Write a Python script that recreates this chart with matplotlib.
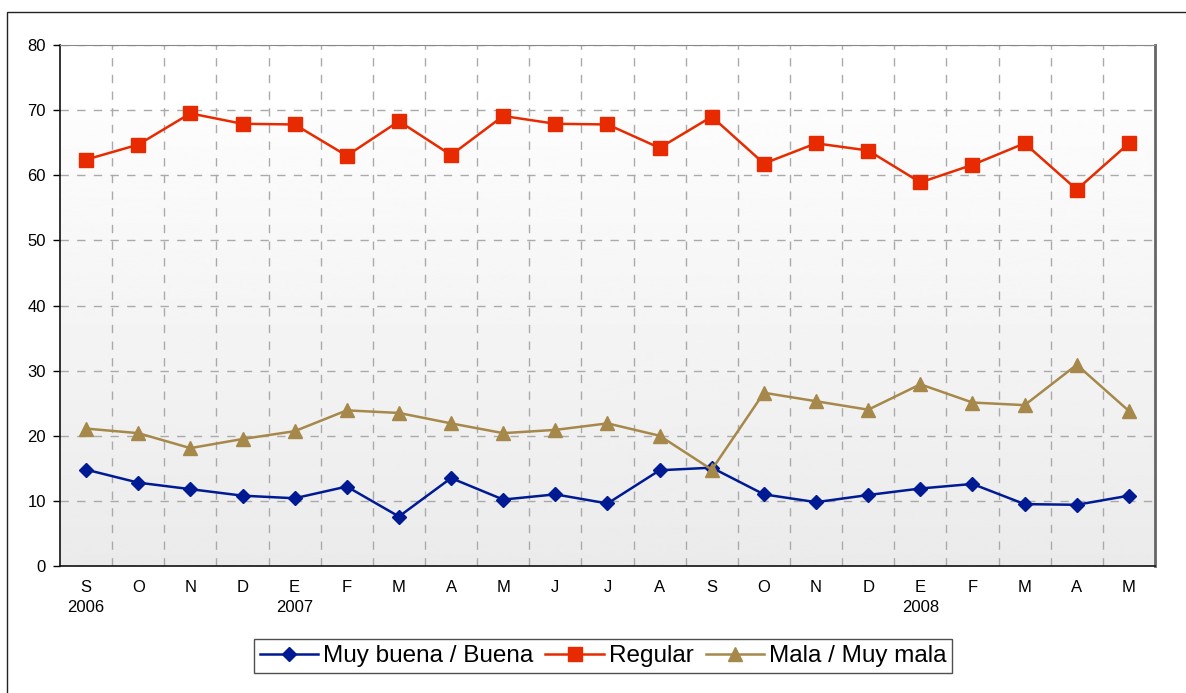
import numpy as np
import matplotlib
matplotlib.use("Agg")
import matplotlib.pyplot as plt
from matplotlib.patches import Rectangle

plt.rcParams['font.family'] = ['Liberation Sans', 'DejaVu Sans']

# datos
meses = ["S", "O", "N", "D", "E", "F", "M", "A", "M", "J", "J", "A", "S",
         "O", "N", "D", "E", "F", "M", "A", "M"]
anios = {0: "2006", 4: "2007", 16: "2008"}

buena = [14.8, 12.8, 11.8, 10.8, 10.4, 12.2, 7.6, 13.5, 10.2, 11.0, 9.6, 14.7,
         15.1, 11.0, 9.8, 10.9, 11.9, 12.6, 9.5, 9.4, 10.8]
regular = [62.4, 64.7, 69.5, 67.9, 67.8, 63.0, 68.3, 63.1, 69.1, 67.9, 67.8,
           64.2, 69.0, 61.8, 64.9, 63.8, 58.9, 61.6, 64.9, 57.8, 64.9]
mala = [21.1, 20.4, 18.1, 19.5, 20.7, 23.9, 23.5, 21.9, 20.4, 20.9, 21.9, 20.0,
        14.8, 26.6, 25.3, 24.0, 27.9, 25.1, 24.7, 30.9, 23.8]

fig = plt.figure(figsize=(11.86, 6.93), dpi=100)
ax = fig.add_axes([60 / 1186, 1 - 566 / 693, 1095 / 1186, 521 / 693])

# outer frame
fig.patches.append(Rectangle((7 / 1186, -0.01), 1.1, 1 - 12 / 693 + 0.01,
                             transform=fig.transFigure, fill=False,
                             edgecolor="#222222", linewidth=1.0))

x = np.arange(len(meses))

# background gradient (white above 70, light grey fade below)
pos = np.linspace(0, 1, 256)
grad = np.where(pos > 0.875, 1.0, 0.92 + 0.07 * pos / 0.875).reshape(-1, 1)
ax.imshow(grad, cmap="gray", vmin=0, vmax=1, aspect="auto", origin="lower",
          extent=(-0.5, len(meses) - 0.5, 0, 80), zorder=0)

ax.plot(x, buena, color="#001a94", marker="D", markersize=7.5, linewidth=1.8,
        label="Muy buena / Buena", zorder=3)
ax.plot(x, regular, color="#e82a00", marker="s", markersize=9.5, linewidth=1.8,
        label="Regular", zorder=3)
ax.plot(x, mala, color="#a6884a", marker="^", markersize=10, linewidth=1.8,
        label="Mala / Muy mala", zorder=3)

ax.set_xlim(-0.5, len(meses) - 0.5)
ax.set_ylim(0, 80)
ax.set_yticks(np.arange(0, 81, 10))
ax.set_xticks(x)
ax.set_xticklabels([m + ("\n" + anios[i] if i in anios else "\n")
                    for i, m in enumerate(meses)], fontsize=12, linespacing=1.45)
ax.set_xticks(np.arange(0.5, len(meses) - 1, 1), minor=True)
ax.tick_params(axis="x", which="both", length=0, pad=10)
ax.tick_params(axis="y", labelsize=12, length=5, width=1, pad=5)

ax.grid(axis="y", which="major", color="#aaaaaa", linestyle=(0, (6, 6)), linewidth=1)
ax.grid(axis="x", which="minor", color="#aaaaaa", linestyle=(0, (6, 6)), linewidth=1)
ax.set_axisbelow(True)

for s in ["left", "bottom"]:
    ax.spines[s].set_color("#111111")
    ax.spines[s].set_linewidth(1.2)
ax.spines["top"].set_color("#888888")
ax.spines["right"].set_color("#666666")
ax.spines["right"].set_linewidth(2)

leg = fig.legend(loc="center", bbox_to_anchor=(603 / 1186, 1 - 656 / 693), ncol=3,
                 fontsize=17.5, frameon=True, fancybox=False, edgecolor="#222222",
                 handlelength=2.4, handletextpad=0.2, columnspacing=0.5,
                 borderpad=0.25)
leg.get_frame().set_linewidth(1.0)

fig.savefig("out.png", dpi=100)
